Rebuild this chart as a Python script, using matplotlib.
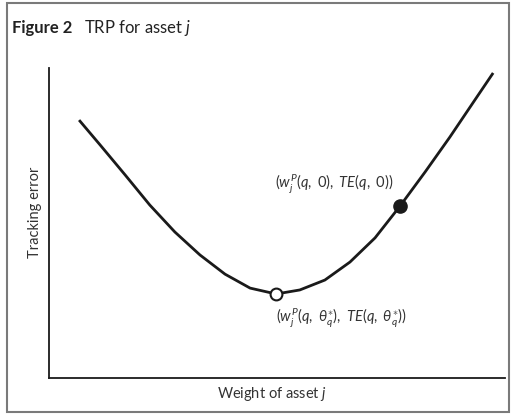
import matplotlib
matplotlib.use("Agg")
import matplotlib.pyplot as plt
from matplotlib.patches import Rectangle

plt.rcParams['mathtext.fontset'] = 'custom'
plt.rcParams['mathtext.rm'] = 'Lato'
plt.rcParams['mathtext.it'] = 'Lato:italic'
plt.rcParams['mathtext.bf'] = 'Lato:bold'
plt.rcParams['font.family'] = ['Lato', 'DejaVu Sans']

# Curve (weight of asset j vs tracking error, arbitrary units)
weight = [6.6, 11.2, 16.7, 22.1, 27.6, 33.1, 38.6, 44.1, 49.8,
          55.0, 60.5, 66.0, 71.5, 77.0, 82.5, 87.9, 93.4, 97.4]
tracking_error = [83.2, 75.2, 65.5, 55.8, 47.1, 39.7, 33.5, 29.0, 27.1,
                  28.4, 31.6, 37.4, 45.2, 55.5, 66.5, 77.7, 89.7, 98.4]
min_point = (49.8, 27.1)
zero_point = (77.0, 55.5)

label_zero = r'$(w_j^P(q,\ 0),\ TE(q,\ 0))$'
label_min = r'$(w_j^P(q,\ \theta_q^{\ast}),\ TE(q,\ \theta_q^{\ast}))$'

W, H = 513, 415
fig = plt.figure(figsize=(W / 100, H / 100), dpi=100)
fig.patches.append(Rectangle((7 / W, 3 / H), (W - 11) / W, (H - 6) / H,
                             transform=fig.transFigure, fill=False,
                             edgecolor='#7a7a7a', linewidth=1.5))

ax = fig.add_axes([49 / W, (H - 378) / H, (505 - 49) / W, (378 - 68) / H])
ax.set_xlim(0, 100)
ax.set_ylim(0, 100)
for s in ['top', 'right']:
    ax.spines[s].set_visible(False)
for s in ['left', 'bottom']:
    ax.spines[s].set_linewidth(1.3)
    ax.spines[s].set_color('#1a1a1a')
ax.set_xticks([])
ax.set_yticks([])

ax.plot(weight, tracking_error, color='#1a1a1a', linewidth=2.0,
        solid_capstyle='butt', solid_joinstyle='round', zorder=2)
ax.plot(*min_point, marker='o', markersize=8.5, markerfacecolor='white',
        markeredgecolor='#1a1a1a', markeredgewidth=1.5, zorder=3)
ax.plot(*zero_point, marker='o', markersize=9.5, color='#1a1a1a', zorder=3)

ax.text(zero_point[0] - 1.5, zero_point[1] + 7, label_zero, ha='right',
        va='center', fontsize=10.5, color='#333333')
ax.text(min_point[0], min_point[1] - 8, label_min, ha='left', va='center',
        fontsize=10.5, color='#333333')

fig.text(35 / W, 1 - 212 / H, 'Tracking error', rotation=90, ha='center',
         va='center', fontsize=10.5, color='#333333')
fig.text(272 / W, 1 - 394 / H, r'Weight of asset $j$', ha='center',
         va='center', fontsize=10.5, color='#333333')

fig.text(12 / W, 1 - 28 / H, 'Figure 2', ha='left', va='center',
         fontsize=12, fontweight='bold', color='#222222')
fig.text(84 / W, 1 - 28 / H, r'TRP for asset $j$', ha='left', va='center',
         fontsize=12, color='#222222')

fig.savefig('out.png', dpi=100)
